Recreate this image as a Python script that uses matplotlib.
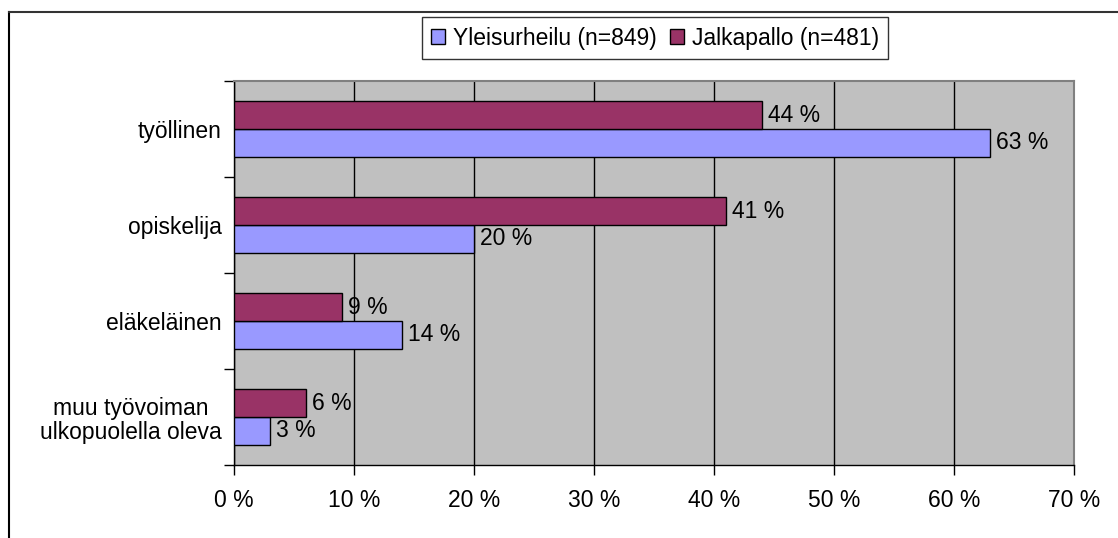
import numpy as np
import matplotlib.pyplot as plt
from matplotlib.lines import Line2D

plt.rcParams["font.family"] = ["Liberation Sans", "DejaVu Sans"]

luokat = ["työllinen", "opiskelija", "eläkeläinen", "muu työvoiman\nulkopuolella oleva"]
yleisurheilu = [63, 20, 14, 3]
jalkapallo = [44, 41, 9, 6]
sarjat = ["Yleisurheilu (n=849)", "Jalkapallo (n=481)"]
xtiikit = [0, 10, 20, 30, 40, 50, 60, 70]

sininen = "#9999FF"
punainen = "#993366"
fs = 16.5


def main():
    fig = plt.figure(figsize=(11.18, 5.38), dpi=100)
    ax = fig.add_axes([234 / 1118, 1 - 465 / 538, 840 / 1118, 384 / 538])
    ax.set_facecolor("#C0C0C0")

    y = np.arange(len(luokat))
    h = 0.29
    b1 = ax.barh(y + h / 2, yleisurheilu, height=h, color=sininen,
                 edgecolor="black", linewidth=1, label=sarjat[0], zorder=3)
    b2 = ax.barh(y - h / 2, jalkapallo, height=h, color=punainen,
                 edgecolor="black", linewidth=1, label=sarjat[1], zorder=3)

    for bars, arvot in ((b1, yleisurheilu), (b2, jalkapallo)):
        for bar, v in zip(bars, arvot):
            ax.text(v + 0.5, bar.get_y() + bar.get_height() / 2, f"{v} %",
                    va="center", ha="left", fontsize=fs, zorder=4)

    ax.set_xlim(0, 70)
    ax.set_ylim(len(luokat) - 0.5, -0.5)
    ax.set_xticks(xtiikit)
    ax.set_xticklabels([f"{t} %" for t in xtiikit], fontsize=fs)
    ax.tick_params(axis="x", direction="out", length=7, width=1, pad=10)
    ax.set_yticks(y)
    ax.set_yticklabels(luokat, fontsize=fs)
    ax.tick_params(axis="y", which="major", length=0, pad=9)
    ax.set_yticks(np.arange(-0.5, len(luokat)), minor=True)
    ax.tick_params(axis="y", which="minor", direction="out", length=7, width=1)
    for lbl in ax.get_yticklabels():
        lbl.set_multialignment("center")
        lbl.set_linespacing(1.1)

    ax.grid(axis="x", color="black", linewidth=1, zorder=1)
    ax.set_axisbelow(True)
    for s in ("top", "right"):
        ax.spines[s].set_color("#808080")
        ax.spines[s].set_linewidth(1.5)
    for s in ("left", "bottom"):
        ax.spines[s].set_color("black")
        ax.spines[s].set_linewidth(1)

    leg = fig.legend(handles=[b1, b2], labels=sarjat, loc="center",
                     bbox_to_anchor=(655 / 1118, 1 - 38 / 538), ncol=2,
                     fontsize=fs, frameon=True, fancybox=False,
                     edgecolor="black", handlelength=0.6, handleheight=0.6,
                     handletextpad=0.35, columnspacing=0.6, borderpad=0.4)
    leg.get_frame().set_linewidth(1)

    # kuvan reunaviivat (vasen ja ylä)
    fig.add_artist(Line2D([9 / 1118, 9 / 1118], [0, 1 - 12 / 538],
                          color="black", linewidth=1.5))
    fig.add_artist(Line2D([9 / 1118, 1], [1 - 12 / 538, 1 - 12 / 538],
                          color="#333333", linewidth=1.5))

    fig.savefig("out.png", dpi=100)


if __name__ == "__main__":
    main()
